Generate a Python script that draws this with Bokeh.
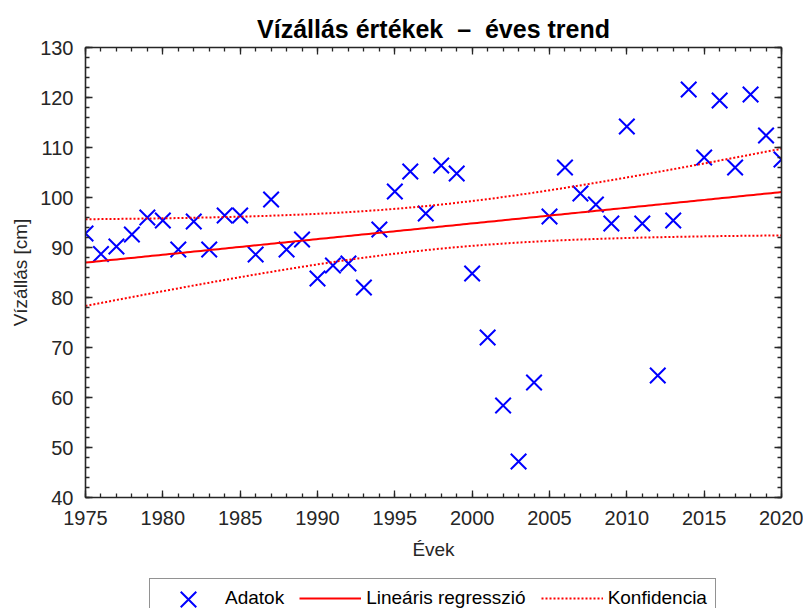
import numpy as np
from bokeh.plotting import figure
from bokeh.layouts import column
from bokeh.models import (LinearAxis, SingleIntervalTicker, Range1d, Legend, LegendItem,
                          CustomJSTickFormatter)
from bokeh.embed import file_html
from bokeh.resources import INLINE

# ---- data ----
years = list(range(1975, 2021))
water_level = [92.8, 88.7, 90.2, 92.6, 96.0, 95.4, 89.6, 95.2, 89.6, 96.4,
               96.4, 88.6, 99.6, 89.6, 91.6, 83.8, 86.4, 86.8, 82.0, 93.6,
               101.2, 105.2, 96.8, 106.4, 104.8, 84.8, 72.0, 58.4, 47.2, 63.0,
               96.2, 106.0, 100.8, 98.6, 94.8, 114.2, 94.8, 64.4, 95.4, 121.6,
               108.0, 119.4, 106.0, 120.6, 112.4, 107.6]
x_ticks = [1975, 1980, 1985, 1990, 1995, 2000, 2005, 2010, 2015, 2020]
y_ticks = [40, 50, 60, 70, 80, 90, 100, 110, 120, 130]
TITLE = "Vízállás értékek \u00a0–\u00a0 éves trend"
X_LABEL = "Évek"
Y_LABEL = "Vízállás [cm]"
LEGEND_LABELS = ["Adatok", "Lineáris regresszió", "Konfidencia"]
T_CRIT = 2.0154  # t(0.975, df=44)

# ---- regression and confidence band ----
x = np.array(years, dtype=float)
y = np.array(water_level, dtype=float)
slope, intercept = np.polyfit(x, y, 1)
xf = np.linspace(x.min(), x.max(), 200)
yf = intercept + slope * xf
n = len(x)
resid = y - (intercept + slope * x)
s = np.sqrt((resid ** 2).sum() / (n - 2))
se = s * np.sqrt(1.0 / n + (xf - x.mean()) ** 2 / ((x - x.mean()) ** 2).sum())
upper = yf + T_CRIT * se
lower = yf - T_CRIT * se

FONT = "Liberation Sans"
DARK = "#262626"
BLUE = "#0000ff"
RED = "#ff0000"
MARKER_SIZE = 22

W, H_MAIN, H_LEG = 803, 570, 38
BORDER_L, BORDER_R = 85, 22

p = figure(width=W, height=H_MAIN, output_backend="svg", toolbar_location=None,
           x_range=Range1d(x_ticks[0], x_ticks[-1]), y_range=Range1d(y_ticks[0], y_ticks[-1]),
           min_border_left=BORDER_L, min_border_right=BORDER_R, min_border_top=47,
           min_border_bottom=73, x_axis_location=None, y_axis_location=None)
p.outline_line_color = None
p.xgrid.visible = False
p.ygrid.visible = False

p.title.text = TITLE
p.title.align = "center"
p.title.text_font = FONT
p.title.text_font_size = "25px"
p.title.text_font_style = "bold"
p.title.text_color = "black"
p.title.standoff = 9


def style_axis(ax, labels=True):
    ax.axis_line_color = DARK
    ax.axis_line_width = 1.6
    ax.major_tick_line_color = DARK
    ax.minor_tick_line_color = DARK
    ax.major_tick_line_width = 1.3
    ax.minor_tick_line_width = 1.3
    ax.major_tick_in = 7
    ax.major_tick_out = 0
    ax.minor_tick_in = 4
    ax.minor_tick_out = 0
    ax.major_label_text_font = FONT
    ax.major_label_text_font_size = "20px"
    ax.major_label_text_color = DARK
    ax.axis_label_text_font = FONT
    ax.axis_label_text_font_size = "19px"
    ax.axis_label_text_font_style = "normal"
    ax.axis_label_text_color = DARK
    if not labels:
        ax.formatter = CustomJSTickFormatter(code="return ''")
        ax.major_label_standoff = 0


xb = LinearAxis(ticker=SingleIntervalTicker(interval=5, num_minor_ticks=5), axis_label=X_LABEL)
style_axis(xb)
xb.major_label_standoff = 13
xb.axis_label_standoff = 11
p.add_layout(xb, "below")

xa = LinearAxis(ticker=SingleIntervalTicker(interval=5, num_minor_ticks=5))
style_axis(xa, labels=False)
p.add_layout(xa, "above")

yl = LinearAxis(ticker=SingleIntervalTicker(interval=10, num_minor_ticks=5), axis_label=Y_LABEL)
style_axis(yl)
yl.major_label_standoff = 12
yl.axis_label_standoff = 6
p.add_layout(yl, "left")

yr = LinearAxis(ticker=SingleIntervalTicker(interval=10, num_minor_ticks=5))
style_axis(yr, labels=False)
p.add_layout(yr, "right")

p.scatter(x, y, marker="x", size=MARKER_SIZE, line_color=BLUE, line_width=2)
p.line(xf, yf, line_color=RED, line_width=2)
p.line(xf, upper, line_color=RED, line_width=2, line_dash="2 2")
p.line(xf, lower, line_color=RED, line_width=2, line_dash="2 2")

# ---- legend strip below the axes ----
# strip uses page-pixel coordinates so the key marker can sit in the legend box
q = figure(width=W, height=H_LEG, output_backend="svg", toolbar_location=None,
           x_range=Range1d(BORDER_L, W - BORDER_R), y_range=Range1d(H_MAIN + H_LEG, H_MAIN),
           min_border_left=BORDER_L, min_border_right=BORDER_R, min_border_top=0,
           min_border_bottom=0, x_axis_location=None, y_axis_location=None)
q.outline_line_color = None
q.xgrid.visible = False
q.ygrid.visible = False

LEG_PAD = 8
LEG_GLYPH_W = 62
LEG_X = 64            # offset of legend box from the strip's frame left
LEG_Y = -10           # legend box bottom relative to strip bottom (box runs past the page)
LEG_ROW_H = 22

k_pts = q.scatter([-100], [-100], marker="x", size=MARKER_SIZE, line_color=BLUE,
                  line_width=2, line_alpha=0)
k_fit = q.line([-100, -90], [-100, -100], line_color=RED, line_width=2)
k_ci = q.line([-100, -90], [-100, -100], line_color=RED, line_width=2, line_dash="2 2")

legend = Legend(items=[
    LegendItem(label=LEGEND_LABELS[0], renderers=[k_pts]),
    LegendItem(label=LEGEND_LABELS[1], renderers=[k_fit]),
    LegendItem(label=LEGEND_LABELS[2], renderers=[k_ci]),
], orientation="horizontal", location=(LEG_X, LEG_Y))
legend.label_text_font = FONT
legend.label_text_font_size = "19px"
legend.label_text_color = "black"
legend.border_line_color = DARK
legend.border_line_width = 1.3
legend.background_fill_alpha = 0
legend.glyph_width = LEG_GLYPH_W
legend.glyph_height = 20
legend.spacing = 15
legend.padding = LEG_PAD
legend.margin = 0
legend.label_standoff = 5
q.add_layout(legend, "center")

# full-size key marker for the "Adatok" entry
key_x = BORDER_L + LEG_X + LEG_PAD + LEG_GLYPH_W / 2
key_y = H_MAIN + H_LEG - LEG_Y - LEG_PAD - LEG_ROW_H / 2
q.scatter([key_x], [key_y], marker="x", size=MARKER_SIZE, line_color=BLUE, line_width=2)

layout = column(p, q, spacing=0)
open("out.html", "w").write(file_html(layout, INLINE))
